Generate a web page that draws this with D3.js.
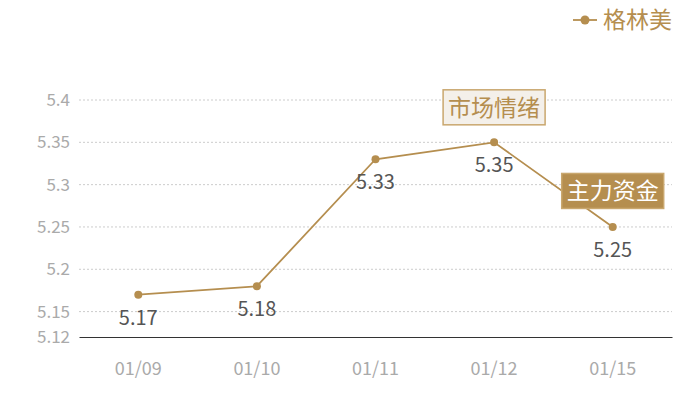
<!DOCTYPE html>
<html>
<head>
<meta charset="utf-8">
<script src="https://cdn.jsdelivr.net/npm/d3@7"></script>
<style>
  html, body { margin: 0; padding: 0; background: #fff; }
  #chart { width: 700px; height: 400px; }
  text { font-family: "Noto Sans CJK SC", "Noto Sans", sans-serif; }
</style>
</head>
<body>
<div id="chart"></div>
<script>
// chart data
const dates = ["01/09", "01/10", "01/11", "01/12", "01/15"];
const prices = [5.17, 5.18, 5.33, 5.35, 5.25];
const yTicks = [5.12, 5.15, 5.2, 5.25, 5.3, 5.35, 5.4];
const seriesName = "格林美";
// callouts pinned to points (index into data)
const callouts = [
  { index: 3, text: "市场情绪", style: "light" },
  { index: 4, text: "主力资金", style: "dark" }
];

const width = 700, height = 400;
const margin = { top: 100, right: 28, bottom: 63, left: 79 };
const gold = "#b58e4f";

const svg = d3.select("#chart").append("svg")
  .attr("width", width).attr("height", height);

// scales
const x = d3.scaleBand()
  .domain(dates)
  .range([margin.left, width - margin.right]);
const y = d3.scaleLinear()
  .domain([5.12, 5.4])
  .range([height - margin.bottom, margin.top]);

const cx = (d) => x(d) + x.bandwidth() / 2;

// grid lines
svg.append("g")
  .selectAll("line")
  .data(yTicks.filter((t) => t !== 5.12))
  .enter().append("line")
  .attr("x1", margin.left).attr("x2", width - margin.right)
  .attr("y1", (d) => y(d)).attr("y2", (d) => y(d))
  .attr("stroke", "#ccc")
  .attr("stroke-dasharray", "2,2");

// y axis labels
const yAxis = d3.axisLeft(y).tickValues(yTicks).tickSize(0).tickPadding(9)
  .tickFormat((d) => String(+d.toFixed(2)));
svg.append("g")
  .attr("transform", `translate(${margin.left},0)`)
  .call(yAxis)
  .call((g) => g.select(".domain").remove())
  .call((g) => g.selectAll("text")
    .attr("fill", "#aaa")
    .style("font-size", "17px"));

// x axis
const xAxis = d3.axisBottom(x).tickSize(0).tickPadding(25);
svg.append("g")
  .attr("transform", `translate(0,${height - margin.bottom})`)
  .call(xAxis)
  .call((g) => g.select(".domain").attr("stroke", "#333").attr("stroke-width", 1.2))
  .call((g) => g.selectAll("text")
    .attr("fill", "#aaa")
    .style("font-size", "18px"));

// line
const data = dates.map((d, i) => ({ date: d, value: prices[i] }));
const line = d3.line()
  .x((d) => cx(d.date))
  .y((d) => y(d.value));

svg.append("path")
  .datum(data)
  .attr("d", line)
  .attr("fill", "none")
  .attr("stroke", gold)
  .attr("stroke-width", 1.8);

svg.append("g")
  .selectAll("circle")
  .data(data)
  .enter().append("circle")
  .attr("cx", (d) => cx(d.date))
  .attr("cy", (d) => y(d.value))
  .attr("r", 4)
  .attr("fill", gold);

// value labels
svg.append("g")
  .selectAll("text")
  .data(data)
  .enter().append("text")
  .attr("x", (d) => cx(d.date))
  .attr("y", (d) => y(d.value) + 30)
  .attr("text-anchor", "middle")
  .attr("fill", "#555")
  .style("font-size", "20px")
  .text((d) => d.value);

// callout boxes
callouts.forEach((c) => {
  const d = data[c.index];
  const px = cx(d.date);
  const py = c.style === "light" ? y(d.value) - 35 : y(d.value) - 36;
  const g = svg.append("g").attr("transform", `translate(${px},${py})`);
  const bw = 102, bh = 35;
  g.append("rect")
    .attr("x", -bw / 2).attr("y", -bh / 2)
    .attr("width", bw).attr("height", bh)
    .attr("fill", c.style === "light" ? "#f4f0ea" : gold)
    .attr("stroke", "#c9a76e")
    .attr("stroke-width", 1.5);
  g.append("text")
    .attr("text-anchor", "middle")
    .attr("dy", "0.36em")
    .attr("fill", c.style === "light" ? gold : "#fff")
    .style("font-size", "23px")
    .text(c.text);
});

// legend
const lg = svg.append("g").attr("transform", "translate(585,20)");
lg.append("line").attr("x1", -12).attr("x2", 12)
  .attr("stroke", gold).attr("stroke-width", 1.8);
lg.append("circle").attr("r", 4.5).attr("fill", gold);
lg.append("text")
  .attr("x", 18).attr("dy", "0.36em")
  .attr("fill", gold)
  .style("font-size", "23px")
  .text(seriesName);
</script>
</body>
</html>
